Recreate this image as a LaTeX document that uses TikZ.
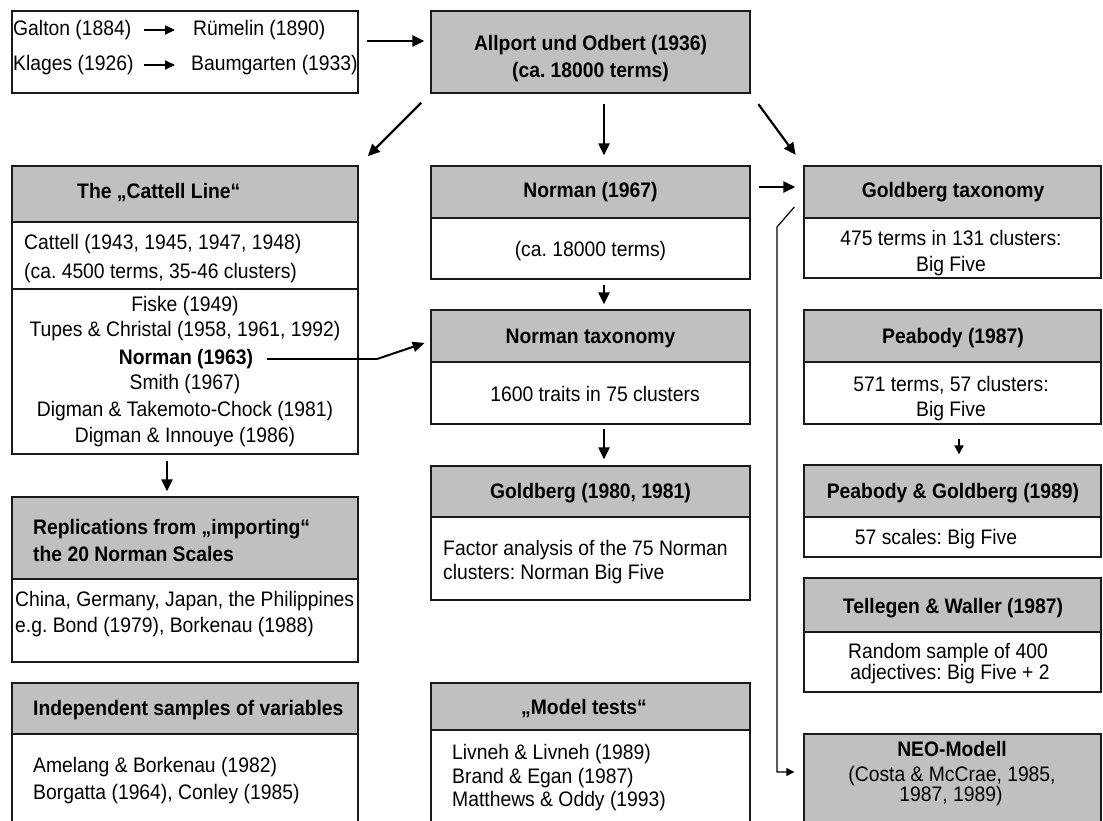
\documentclass[tikz,border=0pt]{standalone}
\usepackage{fontspec}
\setmainfont{Liberation Sans}[FakeStretch=0.92]
\usetikzlibrary{arrows.meta,fit,calc}
\definecolor{boxgray}{HTML}{C0C0C0}
\definecolor{edge}{HTML}{1A1A1A}
\newcommand\fsz{\fontsize{21}{25}\selectfont}
\frenchspacing

\begin{document}
\begin{tikzpicture}[x=1pt,y=-1pt,
  boxframe/.style={draw=edge, line width=1.3pt, inner sep=0pt},
  graybox/.style={boxframe, fill=boxgray},
  whitebox/.style={boxframe, fill=white},
  txt/.style={inner sep=0pt, font=\fsz, text height=15pt, text depth=3pt},
  txtb/.style={txt, font=\fsz\bfseries},
  arr/.style={line width=2.2pt, -{Triangle[length=12pt,width=11pt]}},
  arrs/.style={line width=2pt, -{Triangle[length=10pt,width=9pt]}},
  thinline/.style={line width=1.2pt},
]
\useasboundingbox (0,0) rectangle (1103,821);

% ---------- boxes ----------
\node[whitebox, fit={(12,11) (358,93)}] (b-src) {};
\node[graybox,  fit={(431,11) (750,93)}] (b-allport) {};

\node[graybox,  fit={(12,166) (358,222)}] (b-cath) {};
\node[whitebox, fit={(12,222) (358,289)}] (b-cat1) {};
\node[whitebox, fit={(12,289) (358,454)}] (b-cat2) {};
\node[graybox,  fit={(12,497) (358,579)}] (b-replh) {};
\node[whitebox, fit={(12,579) (358,662)}] (b-repl) {};
\node[graybox,  fit={(12,683) (358,734)}] (b-indh) {};
\node[whitebox, fit={(12,734) (358,830)}] (b-ind) {};

\node[graybox,  fit={(431,166) (750,218)}] (b-n67h) {};
\node[whitebox, fit={(431,218) (750,279)}] (b-n67) {};
\node[graybox,  fit={(431,310) (750,362)}] (b-ntxh) {};
\node[whitebox, fit={(431,362) (750,424)}] (b-ntx) {};
\node[graybox,  fit={(431,466) (750,517)}] (b-g80h) {};
\node[whitebox, fit={(431,517) (750,600)}] (b-g80) {};
\node[graybox,  fit={(431,683) (750,730)}] (b-mth) {};
\node[whitebox, fit={(431,730) (750,830)}] (b-mt) {};

\node[graybox,  fit={(804,166) (1101,218)}] (b-gtxh) {};
\node[whitebox, fit={(804,218) (1101,278)}] (b-gtx) {};
\node[graybox,  fit={(804,310) (1101,362)}] (b-pbh) {};
\node[whitebox, fit={(804,362) (1101,424)}] (b-pb) {};
\node[graybox,  fit={(804,465) (1101,517)}] (b-pgh) {};
\node[whitebox, fit={(804,517) (1101,557)}] (b-pg) {};
\node[graybox,  fit={(804,578) (1101,632)}] (b-tlh) {};
\node[whitebox, fit={(804,632) (1101,692)}] (b-tl) {};
\node[graybox,  fit={(804,734) (1101,830)}] (b-neo) {};

% ---------- texts ----------
\node[txt, anchor=west] (galton)   at (13,30)  {Galton (1884)};
\node[txt, anchor=west] (ruemelin) at (193,30) {Rümelin (1890)};
\node[txt, anchor=west] (klages)   at (13,65)  {Klages (1926)};
\node[txt, anchor=west] (baum)     at (191,65) {Baumgarten (1933)};

\node[txtb] (al1) at (590.5,45) {Allport und Odbert (1936)};
\node[txtb] (al2) at (590.5,72) {(ca. 18000 terms)};

\node[txtb, anchor=west] (catt) at (77,193) {The „Cattell Line“};
\node[txt, anchor=west] (cat1) at (24,243) {Cattell (1943, 1945, 1947, 1948)};
\node[txt, anchor=west] (cat2) at (24,272) {(ca. 4500 terms, 35-46 clusters)};
\node[txt]  (fiske) at (185,305) {Fiske (1949)};
\node[txt]  (tupes) at (185,330) {Tupes \& Christal (1958, 1961, 1992)};
\node[txtb] (n63)   at (186,358) {Norman (1963)};
\node[txt]  (smith) at (185,383) {Smith (1967)};
\node[txt]  (dtc)   at (185,410) {Digman \& Takemoto-Chock (1981)};
\node[txt]  (dinn)  at (185,436) {Digman \& Innouye (1986)};

\node[txtb, anchor=west] (rh1) at (33,528) {Replications from „importing“};
\node[txtb, anchor=west] (rh2) at (33,555) {the 20 Norman Scales};
\node[txt, anchor=west] (rb1) at (15,600) {China, Germany, Japan, the Philippines};
\node[txt, anchor=west] (rb2) at (15,626) {e.g. Bond (1979), Borkenau (1988)};

\node[txtb, anchor=west] (ih)  at (33,709) {Independent samples of variables};
\node[txt, anchor=west]  (ib1) at (33,766) {Amelang \& Borkenau (1982)};
\node[txt, anchor=west]  (ib2) at (33,793) {Borgatta (1964), Conley (1985)};

\node[txtb] (n67t)  at (590.5,192) {Norman (1967)};
\node[txt]  (n67b)  at (590.5,250) {(ca. 18000 terms)};
\node[txtb] (ntxt)  at (590.5,337) {Norman taxonomy};
\node[txt]  (ntxb)  at (595,395)   {1600 traits in 75 clusters};
\node[txtb] (g80t)  at (590.5,492) {Goldberg (1980, 1981)};
\node[txt, anchor=west] (g80b1) at (443,549) {Factor analysis of the 75 Norman};
\node[txt, anchor=west] (g80b2) at (443,573) {clusters: Norman Big Five};
\node[txtb] (mtt)   at (584,708)   {„Model tests“};
\node[txt, anchor=west] (mt1) at (452,753) {Livneh \& Livneh (1989)};
\node[txt, anchor=west] (mt2) at (452,777) {Brand \& Egan (1987)};
\node[txt, anchor=west] (mt3) at (452,800) {Matthews \& Oddy (1993)};

\node[txtb] (gtt)  at (953,192) {Goldberg taxonomy};
\node[txt]  (gtb1) at (951,240) {475 terms in 131 clusters:};
\node[txt]  (gtb2) at (951,265) {Big Five};
\node[txtb] (pbt)  at (953,337) {Peabody (1987)};
\node[txt]  (pbb1) at (951,385) {571 terms, 57 clusters:};
\node[txt]  (pbb2) at (951,410) {Big Five};
\node[txtb] (pgt)  at (953,492) {Peabody \& Goldberg (1989)};
\node[txt]  (pgb)  at (936,538) {57 scales: Big Five};
\node[txtb] (tlt)  at (953,607) {Tellegen \& Waller (1987)};
\node[txt]  (tlb1) at (948,652) {Random sample of 400};
\node[txt]  (tlb2) at (950,673) {adjectives: Big Five + 2};
\node[txtb] (neot) at (952,750) {NEO-Modell};
\node[txt]  (neo1) at (952,775) {(Costa \& McCrae, 1985,};
\node[txt]  (neo2) at (951,795) {1987, 1989)};

% ---------- connectors ----------
\draw[arrs, shorten <=12pt, shorten >=18pt] (galton.east) -- (ruemelin.west);
\draw[arrs, shorten <=10pt, shorten >=16pt] (klages.east) -- (baum.west);
\draw[arr, shorten <=8pt, shorten >=6pt] ([yshift=11pt]b-src.east) -- ([yshift=11pt]b-allport.west);

\draw[arr, shorten <=13pt, shorten >=13pt] (b-allport.south west) -- (b-cath.north east);
\draw[arr, shorten <=10pt, shorten >=10pt] ([xshift=13.5pt]b-allport.south) -- ([xshift=13.5pt]b-n67h.north);
\draw[arr, shorten <=13pt, shorten >=13pt] (b-allport.south east) -- (b-gtxh.north west);

\draw[arr, shorten <=8pt, shorten >=8pt] ([yshift=5pt]b-n67h.east) -- ([yshift=5pt]b-gtxh.west);
\draw[arr, shorten <=5pt, shorten >=5pt] ([xshift=13.5pt]b-n67.south) -- ([xshift=13.5pt]b-ntxh.north);
\draw[arr, shorten <=4pt, shorten >=6pt] ([xshift=13.5pt]b-ntx.south) -- ([xshift=13.5pt]b-g80h.north);

\coordinate (n63bend) at (377,359);
\draw[thinline, shorten <=14pt] (n63.east |- n63bend) -- (n63bend);
\draw[line width=2pt, -{Triangle[length=12pt,width=10pt]}, shorten >=6pt] (n63bend) -- ([yshift=-5pt]b-ntxh.west);

\draw[arr, shorten <=6pt, shorten >=5pt] ([xshift=-18pt]b-cat2.south) -- ([xshift=-18pt]b-replh.north);
\draw[line width=2pt, -{Triangle[length=9pt,width=9pt]}, shorten <=14pt, shorten >=10pt] ([xshift=6.5pt]b-pb.south) -- ([xshift=6.5pt]b-pgh.north);

\coordinate (gl-top) at (777,227);
\draw[thinline, -{Triangle[length=8pt,width=8pt]}, shorten >=9pt]
  ([xshift=-9pt,yshift=-15pt]b-gtxh.west) -- (gl-top) |- ([yshift=10pt]b-neo.west);
\end{tikzpicture}
\end{document}
